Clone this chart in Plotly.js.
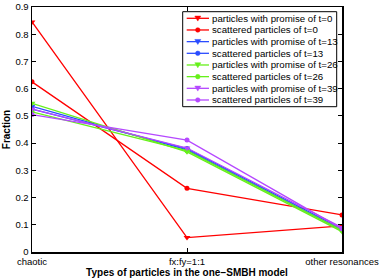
<!DOCTYPE html>
<html><head><meta charset="utf-8">
<script src="https://cdn.plot.ly/plotly-3.0.1.min.js"></script>
<style>html,body{margin:0;padding:0;background:#fff}#c{width:382px;height:278px}</style>
</head><body><div id="c"></div>
<script>
const categories = ["chaotic", "fx:fy=1:1", "other resonances"];
const seriesNames = [
  "particles with promise of t=0", "scattered particles of t=0",
  "particles with promise of t=13", "scattered particles of t=13",
  "particles with promise of t=26", "scattered particles of t=26",
  "particles with promise of t=39", "scattered particles of t=39"
];
const promise_t0 = [0.845, 0.053, 0.096];
const scattered_t0 = [0.625, 0.234, 0.136];
const promise_t13 = [0.535, 0.375, 0.080];
const scattered_t13 = [0.525, 0.380, 0.085];
const promise_t26 = [0.546, 0.368, 0.075];
const scattered_t26 = [0.515, 0.372, 0.080];
const promise_t39 = [0.525, 0.382, 0.090];
const scattered_t39 = [0.505, 0.411, 0.085];
const yTicks = [0, 0.1, 0.2, 0.3, 0.4, 0.5, 0.6, 0.7, 0.8, 0.9];
const yTickText = ["0", "0.1", "0.2", "0.3", "0.4", "0.5", "0.6", "0.7", "0.8", "0.9"];

const seriesValues = [promise_t0, scattered_t0, promise_t13, scattered_t13, promise_t26, scattered_t26, promise_t39, scattered_t39];
const colors = ["#ff0000", "#ff0000", "#2a4cff", "#2a4cff", "#66f01a", "#66f01a", "#b548ff", "#b548ff"];
const font = "Liberation Sans, Arial, sans-serif";

const traces = seriesValues.map((v, i) => ({
  x: categories, y: v, name: seriesNames[i], type: "scatter", mode: "lines+markers",
  showlegend: false,
  line: {color: colors[i], width: 1.3},
  marker: {color: colors[i], size: i % 2 === 0 ? 6 : 5, symbol: i % 2 === 0 ? "triangle-down" : "circle"}
}));

// Legend drawn as layout shapes/annotations (plot area: x 32..342, y 7..252 px)
const L = 32, R = 342, T = 7, B = 252;
const px = x => (x - L) / (R - L);
const py = y => (B - y) / (B - T);
const shapes = [{type: "rect", xref: "paper", yref: "paper",
  x0: px(182.7), x1: px(336.7), y0: py(106.7), y1: py(11.7),
  line: {color: "#000", width: 1}, fillcolor: "#fff", layer: "above"}];
const annotations = [];
seriesNames.forEach((name, i) => {
  const yc = 18.3 + 11.67 * i;
  shapes.push({type: "line", xref: "paper", yref: "paper", x0: px(186.7), x1: px(209), y0: py(yc), y1: py(yc),
    line: {color: colors[i], width: 1.3}, layer: "above"});
  const mx = 197.8;
  if (i % 2 === 0) {
    shapes.push({type: "path", xref: "paper", yref: "paper", layer: "above",
      path: `M ${px(mx - 3)} ${py(yc - 2.2)} L ${px(mx + 3)} ${py(yc - 2.2)} L ${px(mx)} ${py(yc + 2.8)} Z`,
      fillcolor: colors[i], line: {color: colors[i], width: 0.5}});
  } else {
    shapes.push({type: "circle", xref: "paper", yref: "paper", layer: "above",
      x0: px(mx - 2.3), x1: px(mx + 2.3), y0: py(yc + 2.3), y1: py(yc - 2.3),
      fillcolor: colors[i], line: {color: colors[i], width: 0.5}});
  }
  annotations.push({xref: "paper", yref: "paper", x: px(211), y: py(yc), xanchor: "left", yanchor: "middle",
    text: name, showarrow: false, font: {size: 9.7, family: font, color: "#000"}, borderpad: 0});
});

const layout = {
  width: 382, height: 278,
  margin: {l: L, r: 382 - R, t: T, b: 278 - B},
  paper_bgcolor: "#fff", plot_bgcolor: "#fff",
  font: {family: font, size: 9.5, color: "#000"},
  showlegend: false,
  shapes: shapes, annotations: annotations,
  xaxis: {type: "category", range: [0, 2], showgrid: false, zeroline: false,
    showline: true, linecolor: "#000", linewidth: 1.5, mirror: "ticks",
    ticks: "inside", ticklen: 4, tickcolor: "#000", tickfont: {size: 9.5},
    title: {text: "<b>Types of particles in the one\u2212SMBH model</b>", font: {size: 10}, standoff: 2}},
  yaxis: {range: [0, 0.9], tickvals: yTicks, ticktext: yTickText, showgrid: false, zeroline: false,
    showline: true, linecolor: "#000", linewidth: 1.5, mirror: "ticks",
    ticks: "inside", ticklen: 4, tickcolor: "#000", tickfont: {size: 9.5},
    title: {text: "<b>Fraction</b>", font: {size: 10}, standoff: 3}}
};
Plotly.newPlot("c", traces, layout, {displayModeBar: false, staticPlot: true});
</script></body></html>
